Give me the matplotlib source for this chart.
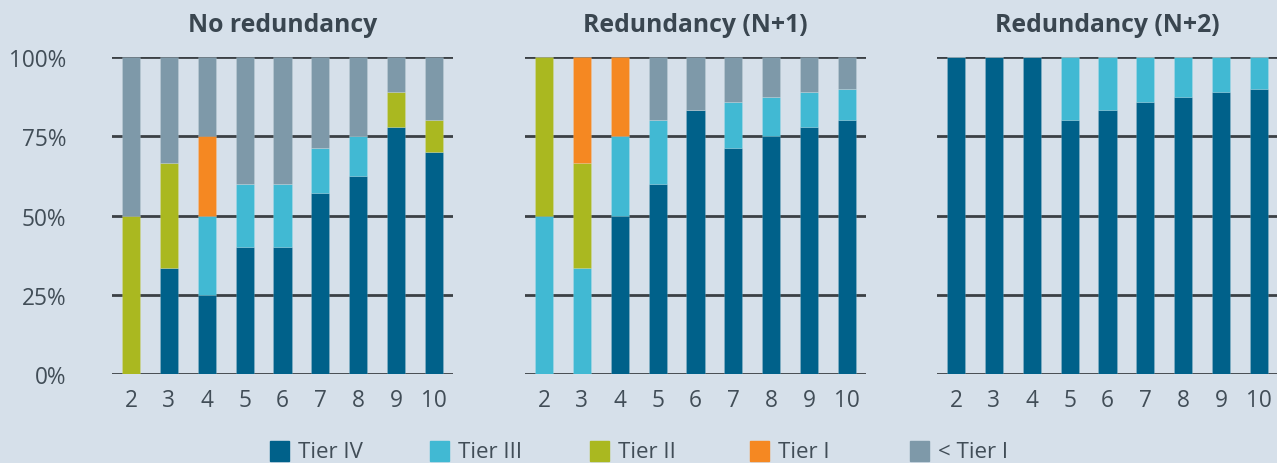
import matplotlib
matplotlib.use('Agg')
import matplotlib.pyplot as plt
import numpy as np

plt.rcParams['font.family'] = ['Open Sans', 'DejaVu Sans']

# data: share (%) of each tier per number of components
categories = [2, 3, 4, 5, 6, 7, 8, 9, 10]
tiers = ['Tier IV', 'Tier III', 'Tier II', 'Tier I', '< Tier I']
colors = ['#00618a', '#41b9d3', '#aab820', '#f58822', '#7e99a9']
titles = ['No redundancy', 'Redundancy (N+1)', 'Redundancy (N+2)']

no_red_tier4 = [0, 33.3, 25, 40, 40, 57.1, 62.5, 77.8, 70]
no_red_tier3 = [0, 0, 25, 20, 20, 14.3, 12.5, 0, 0]
no_red_tier2 = [50, 33.3, 0, 0, 0, 0, 0, 11.1, 10]
no_red_tier1 = [0, 0, 25, 0, 0, 0, 0, 0, 0]
no_red_below = [50, 33.4, 25, 40, 40, 28.6, 25, 11.1, 20]

n1_tier4 = [0, 0, 50, 60, 83.3, 71.4, 75, 77.8, 80]
n1_tier3 = [50, 33.3, 25, 20, 0, 14.3, 12.5, 11.1, 10]
n1_tier2 = [50, 33.3, 0, 0, 0, 0, 0, 0, 0]
n1_tier1 = [0, 33.4, 25, 0, 0, 0, 0, 0, 0]
n1_below = [0, 0, 0, 20, 16.7, 14.3, 12.5, 11.1, 10]

n2_tier4 = [100, 100, 100, 80, 83.3, 85.7, 87.5, 88.9, 90]
n2_tier3 = [0, 0, 0, 20, 16.7, 14.3, 12.5, 11.1, 10]
n2_tier2 = [0] * 9
n2_tier1 = [0] * 9
n2_below = [0] * 9

panels = [
    [no_red_tier4, no_red_tier3, no_red_tier2, no_red_tier1, no_red_below],
    [n1_tier4, n1_tier3, n1_tier2, n1_tier1, n1_below],
    [n2_tier4, n2_tier3, n2_tier2, n2_tier1, n2_below],
]

bg = '#d6e0ea'
text_col = '#414d57'
grid_col = '#3b4045'

fig = plt.figure(figsize=(12.77, 4.64), dpi=100, facecolor=bg)
W, H = 1277, 464
lefts = [112, 525, 937]
for k, (left, series) in enumerate(zip(lefts, panels)):
    ax = fig.add_axes([left / W, 1 - 375 / H, 341 / W, (375 - 58) / H])
    ax.set_facecolor(bg)
    bottom = np.zeros(len(categories))
    for vals, col in zip(series, colors):
        ax.bar(categories, vals, bottom=bottom, width=0.48, color=col,
               edgecolor=(1, 1, 1, 0.15), linewidth=0.6, zorder=3)
        bottom += np.array(vals)
    ax.set_xlim(1.5, 10.5)
    ax.set_ylim(0, 100)
    ax.set_yticks([0, 25, 50, 75, 100])
    ax.set_xticks(categories)
    ax.yaxis.grid(True, color=grid_col, linewidth=2, zorder=0)
    ax.set_axisbelow(True)
    for s in ax.spines.values():
        s.set_visible(False)
    ax.tick_params(length=0, labelsize=16.3, labelcolor=text_col)
    ax.tick_params(axis='x', pad=10)
    if k == 0:
        ax.set_yticklabels(['0%', '25%', '50%', '75%', '100%'])
        ax.tick_params(axis='y', pad=33)
    else:
        ax.set_yticklabels([])
    ax.set_title(titles[k], fontsize=17.8, fontweight='bold', color='#3a4650', pad=19)

# legend with evenly spaced entries
for i, (lab, col) in enumerate(zip(tiers, colors)):
    x0 = 270 + 160 * i
    fig.patches.append(plt.Rectangle((x0 / W, 1 - 462 / H), 19 / W, 20 / H,
                                     transform=fig.transFigure, color=col))
    fig.text((x0 + 28) / W, 1 - 453 / H, lab, fontsize=16, color=text_col,
             va='center', ha='left')

fig.savefig('out.png', dpi=100, facecolor=bg)
